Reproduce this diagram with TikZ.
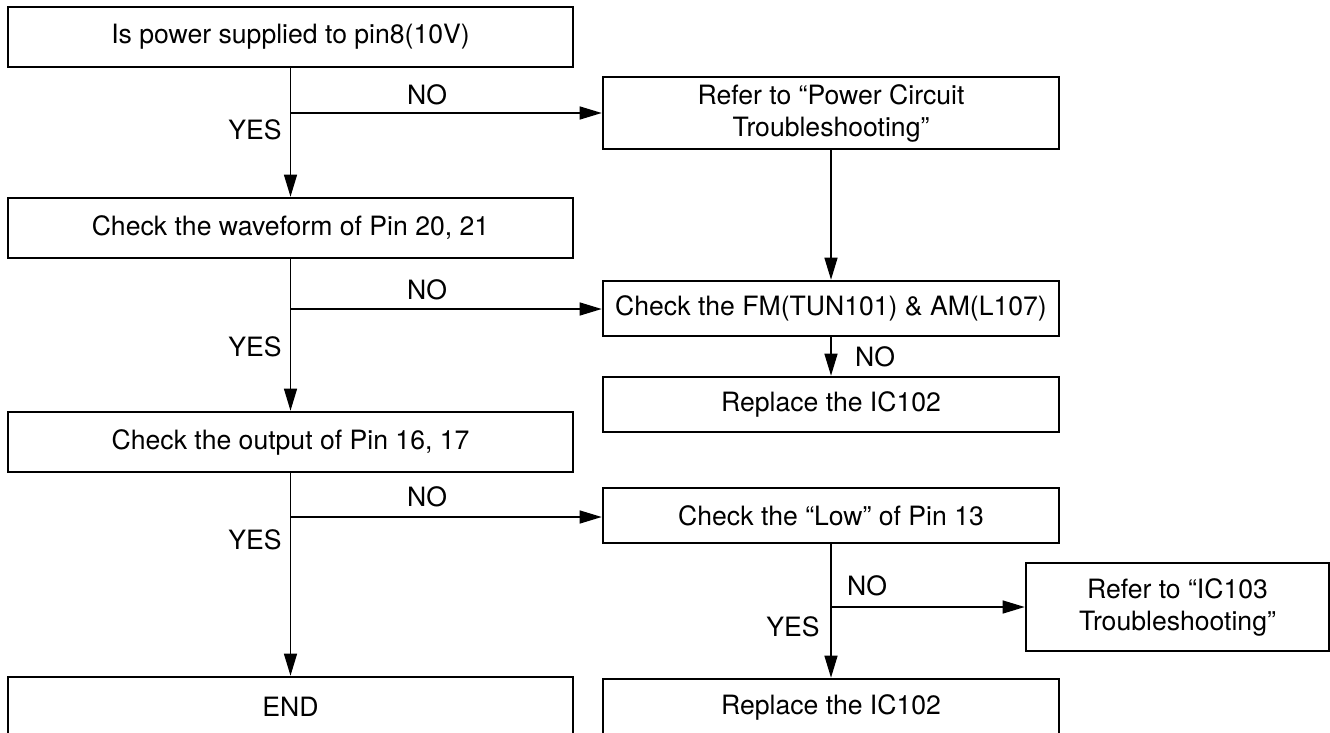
\documentclass[tikz,border=0pt]{standalone}
\usepackage{fontspec}
\setmainfont{TeX Gyre Heros}
\usetikzlibrary{arrows.meta}
\begin{document}
\begin{tikzpicture}[x=1pt,y=-1pt,
  box/.style={draw, line width=2.6pt, rectangle, inner sep=0pt, align=center,
    font=\fontsize{26.6}{32}\selectfont},
  lbl/.style={inner sep=0pt, font=\fontsize{26.6}{30}\selectfont},
  flow/.style={line width=1.3pt, -{Triangle[length=22pt,width=13pt]}},
  wire/.style={line width=1.3pt}]
\useasboundingbox (0,0) rectangle (1330,733);
\clip (0,0) rectangle (1330,733);
% left column
\node[box, minimum width=565pt, minimum height=60pt] (b1) at (290.5,37) {Is power supplied to pin8(10V)};
\node[box, minimum width=565pt, minimum height=60pt] (b3) at (290.5,228) {Check the waveform of Pin 20, 21};
\node[box, minimum width=565pt, minimum height=60pt] (b6) at (290.5,442) {Check the output of Pin 16, 17};
\node[box, minimum width=565pt, minimum height=60pt] (b9) at (290.5,707) {END};
% right column
\node[box, minimum width=456pt, minimum height=72pt] (b2) at (831,113) {Refer to “Power Circuit\\Troubleshooting”};
\node[box, minimum width=456pt, minimum height=55pt] (b4) at (831,308.5) {Check the FM(TUN101) \& AM(L107)};
\node[box, minimum width=456pt, minimum height=55pt] (b5) at (831,404.5) {Replace the IC102};
\node[box, minimum width=456pt, minimum height=55pt] (b7) at (831,515.5) {Check the “Low” of Pin 13};
\node[box, minimum width=456pt, minimum height=56pt] (b10) at (831,707) {Replace the IC102};
\node[box, minimum width=303pt, minimum height=88pt] (b8) at (1177.5,607) {Refer to “IC103\\Troubleshooting”};
% junctions
\coordinate (j1) at (290.5,113);
\coordinate (j2) at (290.5,309);
\coordinate (j3) at (290.5,517);
\coordinate (j5) at (831,607);
% connectors
\draw[flow] (b1.south) -- (b3.north);
\draw[flow] (j1) -- (b2.west);
\draw[flow] (b3.south) -- (b6.north);
\draw[flow] (j2) -- (j2 -| b4.west);
\draw[flow] (b6.south) -- (b9.north);
\draw[flow] (j3) -- (j3 -| b7.west);
\draw[flow] (b2.south) -- (b4.north);
\draw[flow] (b4.south) -- (b5.north);
\draw[flow] (b7.south) -- (b10.north);
\draw[flow] (j5) -- (b8.west);
% labels
\node[lbl] (n1) at (427,95) {NO};
\node[lbl] (y1) at (255,130) {YES};
\node[lbl] (n2) at (427,290) {NO};
\node[lbl] (y2) at (255,347) {YES};
\node[lbl] (n3) at (427,497) {NO};
\node[lbl] (y3) at (255,540) {YES};
\node[lbl] (n4) at (875,357) {NO};
\node[lbl] (n5) at (867,586) {NO};
\node[lbl] (y5) at (793,627) {YES};
\end{tikzpicture}
\end{document}
